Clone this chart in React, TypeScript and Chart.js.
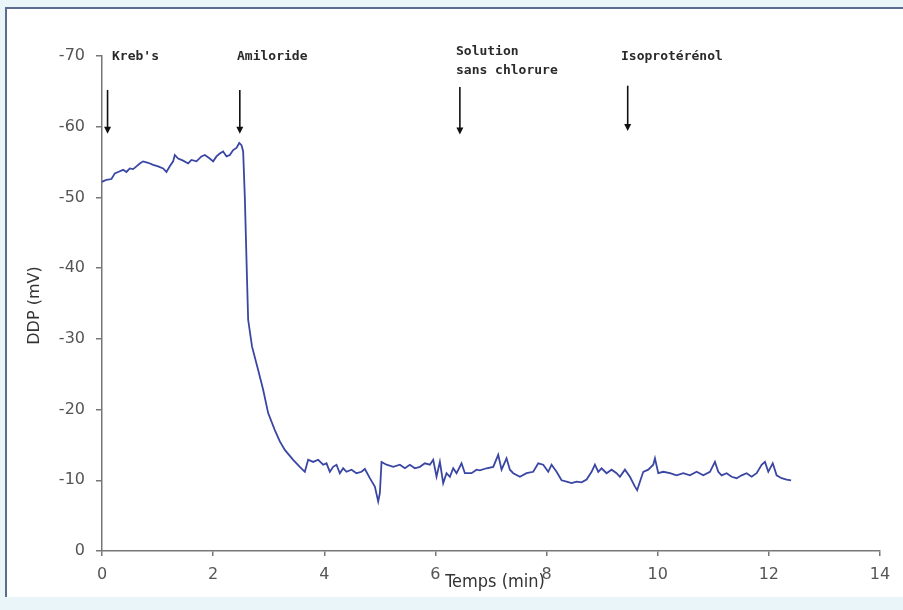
import React, { useEffect, useRef } from "react";
import { Chart, registerables } from "chart.js";

Chart.register(...registerables);

const timeMin = [
  0.0, 0.08, 0.17, 0.23, 0.29, 0.38, 0.44, 0.5, 0.56, 0.62, 0.68, 0.74, 0.83, 0.92, 1.01, 1.1, 1.16, 1.22,
  1.28, 1.31, 1.37, 1.46, 1.55, 1.61, 1.7, 1.79, 1.85, 1.94, 2.0, 2.06, 2.12, 2.18, 2.24, 2.3, 2.36, 2.42,
  2.47, 2.51, 2.54,
  2.57, 2.61, 2.63, 2.7, 2.81, 2.9, 2.99, 3.11, 3.2, 3.29, 3.44, 3.56, 3.65, 3.71, 3.8, 3.89, 3.98, 4.04,
  4.1, 4.16, 4.22, 4.28, 4.34, 4.4, 4.49, 4.58, 4.67, 4.73, 4.82, 4.91, 4.97, 5.0, 5.03, 5.12, 5.24, 5.36,
  5.45, 5.54, 5.63, 5.72, 5.81, 5.9, 5.96, 6.02, 6.08, 6.14, 6.2, 6.26, 6.32, 6.38, 6.47, 6.53, 6.65, 6.74,
  6.8, 6.92, 7.04, 7.13, 7.19, 7.28, 7.34, 7.4, 7.52, 7.64, 7.76, 7.85, 7.94, 8.03, 8.09, 8.18, 8.27, 8.36,
  8.45, 8.54, 8.63, 8.72, 8.81, 8.87, 8.93, 8.99, 9.08, 9.17, 9.26, 9.32, 9.41, 9.5, 9.59, 9.63, 9.68, 9.74,
  9.83, 9.92, 9.95, 10.01, 10.1, 10.22, 10.34, 10.46, 10.58, 10.7, 10.82, 10.94, 11.03, 11.09, 11.15, 11.24,
  11.33, 11.42, 11.51, 11.6, 11.69, 11.78, 11.87, 11.93, 11.99, 12.07, 12.14, 12.23, 12.32, 12.4,
];

const ddp = [
  -52.2, -52.5, -52.6, -53.4, -53.6, -53.9, -53.6, -54.1, -54.0, -54.4, -54.8, -55.1, -54.9, -54.6, -54.4, -54.1, -53.6, -54.4,
  -55.1, -56.0, -55.5, -55.2, -54.8, -55.3, -55.1, -55.8, -56.0, -55.5, -55.1, -55.8, -56.2, -56.5, -55.8, -56.0, -56.7, -57.0,
  -57.7, -57.4, -56.5,
  -50.1, -38.3, -32.7, -28.9, -25.6, -22.8, -19.5, -17.1, -15.5, -14.3, -12.9, -11.9, -11.2, -12.9, -12.6, -12.9, -12.2, -12.4,
  -11.2, -11.9, -12.2, -11.0, -11.7, -11.2, -11.5, -11.0, -11.2, -11.6, -10.3, -9.1, -7.0, -8.2, -12.6, -12.2, -11.9, -12.2,
  -11.7, -12.2, -11.7, -11.9, -12.4, -12.2, -12.9, -10.5, -12.6, -9.6, -11.0, -10.5, -11.7, -11.0, -12.4, -11.0, -11.0, -11.5,
  -11.4, -11.7, -11.9, -13.6, -11.5, -13.1, -11.5, -11.0, -10.5, -11.0, -11.2, -12.4, -12.2, -11.2, -12.2, -11.2, -10.0, -9.8,
  -9.6, -9.8, -9.7, -10.1, -11.2, -12.2, -11.2, -11.7, -11.0, -11.5, -11.0, -10.5, -11.5, -10.5, -9.1, -8.6, -9.8, -11.2,
  -11.5, -12.2, -13.1, -11.0, -11.2, -11.0, -10.7, -11.0, -10.7, -11.2, -10.7, -11.2, -12.6, -11.2, -10.7, -11.0,
  -10.5, -10.3, -10.7, -11.0, -10.5, -11.0, -12.2, -12.6, -11.2, -12.4, -10.7, -10.3, -10.1, -10.0,
];

const xTicks = [0, 2, 4, 6, 8, 10, 12, 14];
const yTicks = [-70, -60, -50, -40, -30, -20, -10, 0];

const eventLabels = [["Kreb's"], ["Amiloride"], ["Solution", "sans chlorure"], ["Isoprotérénol"]];
const eventTimes = [0.1, 2.48, 6.44, 9.46];
const eventLabelTimes = [0.18, 2.43, 6.37, 9.34];

const annotationPlugin = {
  id: "annotations",
  afterDraw(chart: any) {
    const ctx = chart.ctx;
    const xs = chart.scales.x;
    const ys = chart.scales.y;
    ctx.save();
    ctx.strokeStyle = "#111";
    ctx.fillStyle = "#111";
    ctx.lineWidth = 1.6;
    const arrowTops = [-65.2, -65.2, -65.6, -65.8];
    const arrowBottoms = [-59.0, -59.0, -58.9, -59.4];
    eventTimes.forEach((t, i) => {
      const x = xs.getPixelForValue(t);
      const y1 = ys.getPixelForValue(arrowTops[i]);
      const y2 = ys.getPixelForValue(arrowBottoms[i]);
      ctx.beginPath();
      ctx.moveTo(x, y1);
      ctx.lineTo(x, y2 - 5);
      ctx.stroke();
      ctx.beginPath();
      ctx.moveTo(x - 3.5, y2 - 7);
      ctx.lineTo(x + 3.5, y2 - 7);
      ctx.lineTo(x, y2);
      ctx.closePath();
      ctx.fill();
    });
    ctx.font = "bold 13px 'DejaVu Sans Mono'";
    ctx.textAlign = "left";
    ctx.textBaseline = "middle";
    ctx.fillStyle = "#2a2a2a";
    eventLabels.forEach((lines, i) => {
      const x = xs.getPixelForValue(eventLabelTimes[i]);
      const y0 = lines.length > 1 ? ys.getPixelForValue(-70) - 4 : ys.getPixelForValue(-70) + 1;
      lines.forEach((ln, j) => ctx.fillText(ln, x, y0 + j * 19));
    });
    ctx.fillStyle = "#333";
    ctx.font = "18px 'DejaVu Sans Condensed', 'DejaVu Sans'";
    ctx.textAlign = "center";
    ctx.fillText("Temps (min)", 495, 582);
    ctx.font = "16px 'DejaVu Sans'";
    ctx.translate(35, (chart.chartArea.top + chart.chartArea.bottom) / 2 + 2);
    ctx.rotate(-Math.PI / 2);
    ctx.fillText("DDP (mV)", 0, 0);
    ctx.restore();
  },
};

export default function App() {
  const ref = useRef<HTMLCanvasElement>(null);
  useEffect(() => {
    document.body.style.margin = "0";
    const points = timeMin.map((t, i) => ({ x: t, y: ddp[i] }));
    const tickFont = { family: "'DejaVu Sans'", size: 16 };
    const chart = new Chart(ref.current!, {
      type: "scatter",
      data: {
        datasets: [
          {
            data: points,
            showLine: true,
            borderColor: "#3a46a3",
            borderWidth: 1.8,
            pointRadius: 0,
            tension: 0,
          },
        ],
      },
      options: {
        animation: false,
        responsive: false,
        maintainAspectRatio: false,
        layout: { padding: { top: 56, right: 23, bottom: 0, left: 0 } },
        plugins: { legend: { display: false }, tooltip: { enabled: false } },
        scales: {
          x: {
            type: "linear",
            min: 0,
            max: 14,
            afterBuildTicks: (s: any) => {
              s.ticks = xTicks.map((v) => ({ value: v }));
            },
            afterFit: (s: any) => {
              s.height = 59;
            },
            ticks: { color: "#555", font: tickFont, padding: 9, maxRotation: 0 },
            grid: { drawOnChartArea: false, drawTicks: true, tickLength: 5, color: "#777", lineWidth: 1.5 },
            border: { color: "#777", width: 1.5 },
          },
          y: {
            type: "linear",
            min: -70,
            max: 0,
            reverse: true,
            afterBuildTicks: (s: any) => {
              s.ticks = yTicks.map((v) => ({ value: v }));
            },
            afterFit: (s: any) => {
              s.width = 102;
            },
            ticks: { color: "#555", font: tickFont, padding: 11 },
            grid: { drawOnChartArea: false, drawTicks: true, tickLength: 6, color: "#777", lineWidth: 1.5 },
            border: { color: "#777", width: 1.5 },
          },
        },
      },
      plugins: [annotationPlugin],
    });
    return () => chart.destroy();
  }, []);
  return (
    <div style={{ position: "relative", width: 903, height: 610, background: "#eaf5f9", overflow: "hidden" }}>
      <div
        style={{
          position: "absolute",
          left: 5,
          top: 7,
          width: 900,
          height: 588,
          background: "#ffffff",
          borderLeft: "2px solid #5b6b92",
          borderTop: "2px solid #5b6b92",
        }}
      />
      <canvas ref={ref} width={903} height={610} style={{ position: "absolute", left: 0, top: 0 }} />
    </div>
  );
}
